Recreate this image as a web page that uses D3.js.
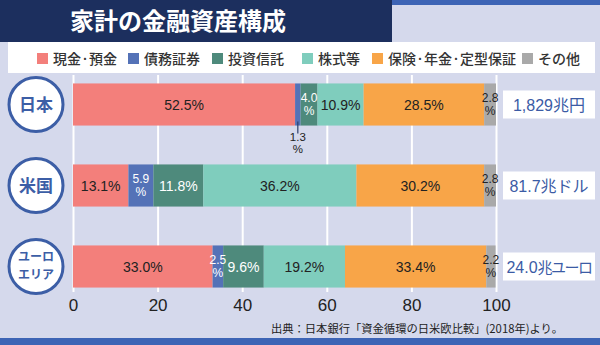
<!DOCTYPE html>
<html><head><meta charset="utf-8">
<script src="https://cdn.jsdelivr.net/npm/d3@7"></script>
<style>
html,body{margin:0;padding:0;background:#d5d9ec;}
svg{display:block;}
</style></head><body>
<svg id="c" width="600" height="345"></svg>
<script>
const title = "家計の金融資産構成";
const regions = ["日本", "米国", "ユーロエリア"];
const regionLines = [["日本"], ["米国"], ["ユーロ", "エリア"]];
const categories = ["現金·預金", "債務証券", "投資信託", "株式等", "保険·年金·定型保証", "その他"];
const japan = [52.5, 1.3, 4.0, 10.9, 28.5, 2.8];
const usa = [13.1, 5.9, 11.8, 36.2, 30.2, 2.8];
const euro = [33.0, 2.5, 9.6, 19.2, 33.4, 2.2];
const totals = ["1,829兆円", "81.7兆ドル", "24.0兆ユーロ"];
const ticks = [0, 20, 40, 60, 80, 100];
const source = "出典：日本銀行「資金循環の日米欧比較」(2018年)より。";

const colors = ["#f37f7b", "#5472b7", "#4e8a7c", "#7fcdbd", "#f8a548", "#a9a9a9"];
const textColors = ["#222", "#fff", "#fff", "#222", "#222", "#222"];
const series = [japan, usa, euro];
const FONT = "'Liberation Sans','Noto Sans CJK JP',sans-serif";
const CJK = "'Noto Sans CJK JP','Liberation Sans',sans-serif";

const svg = d3.select("#c");
svg.append("rect").attr("x",0).attr("y",0).attr("width",600).attr("height",345).attr("fill","#d5d9ec");
svg.append("rect").attr("x",392).attr("y",0).attr("width",208).attr("height",5).attr("fill","#3d64b5");
svg.append("rect").attr("x",0).attr("y",0).attr("width",392).attr("height",42).attr("fill","#1c2f5e");
svg.append("rect").attr("x",0).attr("y",338).attr("width",600).attr("height",7).attr("fill","#3d64b5");
svg.append("text").attr("x",70).attr("y",30).attr("fill","#fff")
  .attr("font-family",CJK).attr("font-weight",700).attr("font-size",24).text(title);

// legend
svg.append("rect").attr("x",8).attr("y",42).attr("width",587).attr("height",31).attr("fill","#fff");
const legX = [37, 128, 212, 302, 372, 522];
const leg = svg.append("g").selectAll("g").data(categories).join("g")
  .attr("transform",(d,i)=>`translate(${legX[i]},0)`);
leg.append("rect").attr("x",0).attr("y",53).attr("width",11).attr("height",11).attr("fill",(d,i)=>colors[i]);
leg.append("text").attr("x",16).attr("y",64).attr("font-family",CJK).attr("font-weight",500)
  .attr("font-size",14).attr("fill","#333").text(d=>d);

// scales
const x = d3.scaleLinear().domain([0,100]).range([73,496]);
const y = d3.scaleBand().domain(regions).range([64,307]).paddingInner(0.48).paddingOuter(0.24);

// grid / axis
const axis = d3.axisBottom(x).tickValues(ticks).tickSize(-217).tickPadding(6.5).tickFormat(d3.format("d"));
const ag = svg.append("g").attr("transform","translate(0,292)").call(axis);
ag.select(".domain").remove();
ag.selectAll("line").attr("stroke","#fff").attr("stroke-width",2);
ag.selectAll("text").attr("font-family",FONT).attr("font-size",17).attr("fill","#222");

// bars
regions.forEach((r,ri)=>{
  const vals = series[ri];
  let cum = 0;
  const segs = vals.map((v,i)=>{const s={i, v, x0:cum, x1:cum+v}; cum+=v; return s;});
  const g = svg.append("g");
  const y0 = y(r), bw = y.bandwidth(), cy = y0 + bw/2;
  g.selectAll("rect").data(segs).join("rect")
    .attr("x",d=>x(d.x0)).attr("y",y0).attr("width",d=>x(d.x1)-x(d.x0)).attr("height",bw)
    .attr("fill",d=>colors[d.i]);
  segs.forEach(d=>{
    const cx = (x(d.x0)+x(d.x1))/2;
    const lab = d3.format(".1f")(d.v);
    if (d.v < 2) {
      g.append("line").attr("x1",cx).attr("x2",cx).attr("y1",y0+bw-4).attr("y2",y0+bw+8)
        .attr("stroke","#2d3f6b").attr("stroke-width",1.2);
      g.append("text").attr("x",cx).attr("y",y0+bw+15).attr("text-anchor","middle")
        .attr("font-family",FONT).attr("font-size",11.5).attr("fill","#222").text(lab);
      g.append("text").attr("x",cx).attr("y",y0+bw+27).attr("text-anchor","middle")
        .attr("font-family",FONT).attr("font-size",11.5).attr("fill","#222").text("%");
    } else if (d.v < 7) {
      g.append("text").attr("x",cx).attr("y",cy-3).attr("text-anchor","middle")
        .attr("font-family",FONT).attr("font-size",12).attr("fill",textColors[d.i]).text(lab);
      g.append("text").attr("x",cx).attr("y",cy+10).attr("text-anchor","middle")
        .attr("font-family",FONT).attr("font-size",12).attr("fill",textColors[d.i]).text("%");
    } else {
      g.append("text").attr("x",cx).attr("y",cy+5).attr("text-anchor","middle")
        .attr("font-family",FONT).attr("font-size",14).attr("fill",textColors[d.i]).text(lab+"%");
    }
  });
  // circle label
  svg.append("circle").attr("cx",36).attr("cy",cy).attr("r",27).attr("fill","#fff")
    .attr("stroke","#3c5ea6").attr("stroke-width",3);
  const lines = regionLines[ri];
  lines.forEach((t,li)=>{
    const fs = lines.length>1 ? 12 : 17;
    const off = lines.length>1 ? (li===0 ? -5.5 : 12) : 6;
    svg.append("text").attr("x",36).attr("y",cy+off).attr("text-anchor","middle")
      .attr("font-family",CJK).attr("font-weight",700).attr("font-size",fs).attr("fill","#3c5ea6").text(t);
  });
  // total box
  svg.append("rect").attr("x",503).attr("y",cy-14).attr("width",92).attr("height",28).attr("fill","#fff");
  const m = totals[ri].match(/^([\d.,]+)(.*)$/);
  const tt = svg.append("text").attr("x",549).attr("y",cy+6).attr("text-anchor","middle")
    .attr("font-family",FONT).attr("font-size",16).attr("fill","#3b5ba5");
  tt.append("tspan").text(m[1]);
  const unit = tt.append("tspan").text(m[2]);
  if (m[2].length > 3) unit.attr("font-size",15).attr("letter-spacing","-1.5px");
});

svg.append("text").attr("x",563).attr("y",333).attr("text-anchor","end")
  .attr("font-family",CJK).attr("font-size",11.3).attr("fill","#222").text(source);
</script>
</body></html>
